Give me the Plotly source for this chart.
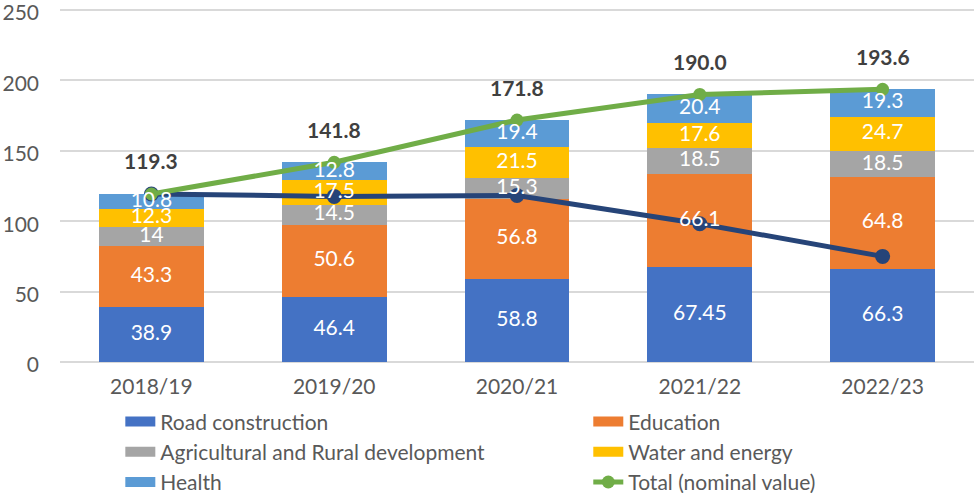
import plotly.graph_objects as go

years = ["2018/19", "2019/20", "2020/21", "2021/22", "2022/23"]
road = [38.9, 46.4, 58.8, 67.45, 66.3]
education = [43.3, 50.6, 56.8, 66.1, 64.8]
agri = [14, 14.5, 15.3, 18.5, 18.5]
water = [12.3, 17.5, 21.5, 17.6, 24.7]
health = [10.8, 12.8, 19.4, 20.4, 19.3]
total_nominal = [119.3, 141.8, 171.8, 190.0, 193.6]
total_real = [119.3, 117.6, 118.2, 98.2, 75.0]

FONT = "Lato"
fig = go.Figure()

bars = [
    ("Road construction", road, "#4472C4", "legend"),
    ("Education", education, "#ED7D31", "legend2"),
    ("Agricultural and Rural development", agri, "#A5A5A5", "legend"),
    ("Water and energy", water, "#FFC000", "legend2"),
    ("Health", health, "#5B9BD5", "legend"),
]
for name, vals, col, lg in bars:
    fig.add_trace(go.Bar(
        x=years, y=vals, name=name, marker=dict(color=col, line=dict(width=0)),
        showlegend=False,
    ))
    # legend swatch drawn as a thick line so it looks like Excel's wide box
    fig.add_trace(go.Scatter(
        x=[None], y=[None], mode="lines", name=name, legend=lg,
        line=dict(color=col, width=10),
    ))

fig.add_trace(go.Scatter(
    x=years, y=total_real, mode="lines+markers", name="Total (real value)",
    line=dict(color="#264478", width=5), marker=dict(size=15, color="#264478"),
    showlegend=False,
))
fig.add_trace(go.Scatter(
    x=years, y=total_nominal, mode="lines+markers", name="Total (nominal value)",
    line=dict(color="#70AD47", width=5), marker=dict(size=13, color="#70AD47"),
    legend="legend2",
))

# segment labels on top of the lines (as in Excel), centred in each stack segment
base = [0.0] * len(years)
for name, vals, col, lg in bars:
    mids = [b + v / 2 for b, v in zip(base, vals)]
    base = [b + v for b, v in zip(base, vals)]
    fig.add_trace(go.Scatter(
        x=years, y=mids, mode="text", text=[str(v) for v in vals],
        textposition="middle center", showlegend=False, hoverinfo="skip",
        textfont=dict(color="white", size=21, family=FONT),
    ))

for yr, v in zip(years, total_nominal):
    fig.add_annotation(x=yr, y=v, text=f"<b>{v:.1f}</b>", showarrow=False,
                       yshift=33, font=dict(size=21, color="#404040", family=FONT))

legend_style = dict(
    orientation="v", yanchor="top", y=-0.11, xanchor="left", traceorder="normal",
    font=dict(size=21, color="#595959", family=FONT),
    bgcolor="rgba(0,0,0,0)", tracegroupgap=0, itemwidth=30,
)
fig.update_layout(
    width=974, height=493,
    margin=dict(l=60, r=0, t=5, b=131, autoexpand=False),
    plot_bgcolor="white", paper_bgcolor="white",
    barmode="stack", bargap=0.426,
    font=dict(family=FONT, color="#595959", size=21),
    xaxis=dict(showgrid=False, ticks="", showline=False, ticklabelstandoff=10,
               tickfont=dict(size=21, color="#595959")),
    yaxis=dict(range=[0, 253.5], tickvals=[0, 50, 100, 150, 200, 250], showgrid=True,
               gridcolor="#D9D9D9", gridwidth=2, zeroline=True, zerolinecolor="#D9D9D9",
               zerolinewidth=2, ticks="", ticklabelstandoff=20, ticklabeloverflow="allow",
               ticklabelshift=3, tickfont=dict(size=21, color="#595959")),
    legend=dict(x=0.066, **legend_style),
    legend2=dict(x=0.578, **legend_style),
    showlegend=True,
)

fig.write_html("out.html", config={"displayModeBar": False},
               post_script="document.body.style.margin='0';")
